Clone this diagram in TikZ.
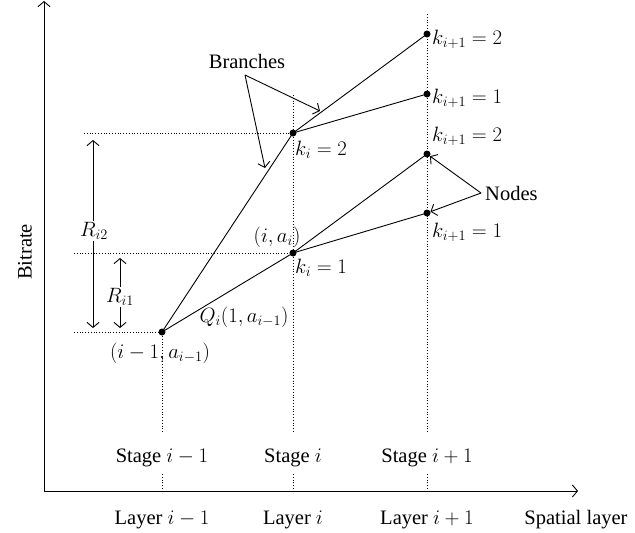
\documentclass[tikz,border=0pt]{standalone}
\usepackage{fontspec}
\setmainfont{Liberation Serif}
\usetikzlibrary{arrows.meta}
\begin{document}
\begin{tikzpicture}[x=1pt,y=-1pt,
  font=\fontsize{20.5}{24}\selectfont,
  dot/.style={circle,fill=black,inner sep=0pt,minimum size=7pt},
  dotl/.style={dotted,line width=0.8pt},
  ln/.style={line width=0.9pt},
  arr/.style={line width=0.9pt,-{Straight Barb[length=5pt,width=12pt]}},
  darr/.style={line width=0.9pt,{Straight Barb[length=5pt,width=12pt]}-{Straight Barb[length=5pt,width=12pt]}},
  lbl/.style={inner sep=1pt}]
\useasboundingbox (0,0) rectangle (635,533);
% axes
\coordinate (O) at (44,491);
\coordinate (Ytop) at (44,1);
\coordinate (Xend) at (578,491);
\draw[arr] (O) -- (Ytop);
\draw[arr] (O) -- (Xend);
\node[lbl,rotate=90] (bitrate) at (25,252) {Bitrate};
% dotted guides
\draw[dotl] (162,336) -- (162,432);
\draw[dotl] (162,474) -- (162,491);
\draw[dotl] (293,95) -- (293,432);
\draw[dotl] (293,474) -- (293,491);
\draw[dotl] (427,14) -- (427,432);
\draw[dotl] (427,474) -- (427,491);
\draw[dotl] (84,133) -- (293,133);
\draw[dotl] (74,253) -- (293,253);
\draw[dotl] (74,332) -- (162,332);
% nodes
\node[dot] (a) at (162,332) {};
\node[dot] (b1) at (293,253) {};
\node[dot] (b2) at (293,133) {};
\node[dot] (c4) at (427,34) {};
\node[dot] (c3) at (427,94) {};
\node[dot] (c2) at (427,154) {};
\node[dot] (c1) at (427,213) {};
% branches
\draw[ln] (a.center) -- (b2.center);
\draw[ln] (a.center) -- (b1.center);
\draw[ln] (b2.center) -- (c4.center);
\draw[ln] (b2.center) -- (c3.center);
\draw[ln] (b1.center) -- (c2.center);
\draw[ln] (b1.center) -- (c1.center);
% labels at nodes
\node[lbl,anchor=west] (lc4) at (431,39) {$k_{i+1} = 2$};
\node[lbl,anchor=west] (lc3) at (431,98) {$k_{i+1} = 1$};
\node[lbl,anchor=west] (lc2) at (431,136) {$k_{i+1} = 2$};
\node[lbl,anchor=west] (lc1) at (431,232) {$k_{i+1} = 1$};
\node[lbl,anchor=west] (lb2) at (294,150) {$k_i = 2$};
\node[lbl,anchor=west] (lb1) at (294,268) {$k_i = 1$};
\node[lbl] (lai) at (277,237) {$(i, a_i)$};
\node[lbl] (lq) at (244,317) {$Q_i(1, a_{i-1})$};
\node[lbl] (la) at (160,353) {$(i-1, a_{i-1})$};
% R arrows
\coordinate (r2t) at (93,140);
\coordinate (r2b) at (93,328);
\coordinate (r1t) at (120,258);
\coordinate (r1b) at (120,328);
\draw[darr] (r2t) -- (r2b);
\draw[darr] (r1t) -- (r1b);
\node[lbl,fill=white] (R2) at (94,231) {$R_{i2}$};
\node[lbl,fill=white] (R1) at (120,297) {$R_{i1}$};
% Branches callout
\node[lbl] (br) at (247,61) {Branches};
\coordinate (brs) at (245,75);
\coordinate (bre1) at (320,111);
\coordinate (bre2) at (265,168);
\draw[arr] (brs) -- (bre1);
\draw[arr] (brs) -- (bre2);
% Nodes callout
\node[lbl,anchor=west] (nd) at (484,193) {Nodes};
\coordinate (nds) at (481,193);
\draw[arr] (nds) -- (c2);
\draw[arr] (nds) -- (c1);
% stages and layers
\node[lbl] (s1) at (162,458) {Stage $i-1$};
\node[lbl] (s2) at (293,458) {Stage $i$};
\node[lbl] (s3) at (427,458) {Stage $i+1$};
\node[lbl] (l1) at (162,520) {Layer $i-1$};
\node[lbl] (l2) at (293,520) {Layer $i$};
\node[lbl] (l3) at (427,520) {Layer $i+1$};
\node[lbl] (sp) at (576,520) {Spatial layer};
\end{tikzpicture}
\end{document}
